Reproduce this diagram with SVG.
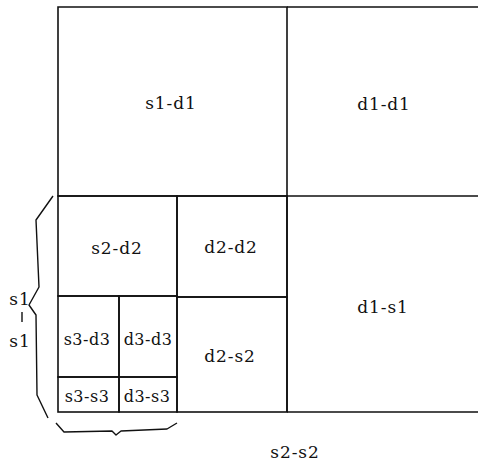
<svg xmlns="http://www.w3.org/2000/svg" width="478" height="465" viewBox="0 0 478 465">
<style>
.b{fill:none;stroke:#111;stroke-width:1.6}
.t{font-family:"DejaVu Serif","Liberation Serif",serif;font-size:17px;letter-spacing:0.9px;fill:#111;text-anchor:middle}
.s{font-size:16px;letter-spacing:0.5px}
.br{fill:none;stroke:#111;stroke-width:1.4;stroke-linejoin:round}
</style>
<rect width="478" height="465" fill="#fff"/>
<g id="s1-d1"><path class="b" d="M58,7 H287 V196 H58 Z"/><text class="t" x="171" y="109">s1-d1</text></g>
<g id="d1-d1"><path class="b" d="M287,7 H478 M287,196 H478"/><text class="t" x="384" y="110">d1-d1</text></g>
<g id="d1-s1"><path class="b" d="M287,196 V412 M287,412 H478"/><text class="t" x="383" y="313">d1-s1</text></g>
<g id="s2-d2"><rect class="b" x="58" y="196" width="119" height="100"/><text class="t" x="117" y="254">s2-d2</text></g>
<g id="d2-d2"><rect class="b" x="177" y="196" width="110" height="101"/><text class="t" x="231" y="253">d2-d2</text></g>
<g id="d2-s2"><rect class="b" x="177" y="297" width="110" height="115"/><text class="t" x="230" y="362">d2-s2</text></g>
<g id="s3-d3"><rect class="b" x="58" y="296" width="61" height="81"/><text class="t s" x="87" y="345">s3-d3</text></g>
<g id="d3-d3"><rect class="b" x="119" y="296" width="58" height="81"/><text class="t s" x="148" y="345">d3-d3</text></g>
<g id="s3-s3"><rect class="b" x="58" y="377" width="61" height="35"/><text class="t s" x="87" y="402">s3-s3</text></g>
<g id="d3-s3"><rect class="b" x="119" y="377" width="58" height="35"/><text class="t s" x="147" y="402">d3-s3</text></g>
<g id="s2-s2"><text class="t" x="295" y="458">s2-s2</text></g>
<g id="connectors">
<path class="br" d="M53,196 L36,220 L39,287 L29,305 L36,315 L37,395 L48,418"/>
<path class="br" d="M56,423 L64,432 L112,431 L116,435 L121,431 L167,429 L177,423"/>
</g>
<g id="s1-s1-label">
<text class="t" x="20" y="305">s1</text>
<path class="br" d="M22,312 V322"/>
<text class="t" x="20" y="347">s1</text>
</g>
</svg>
